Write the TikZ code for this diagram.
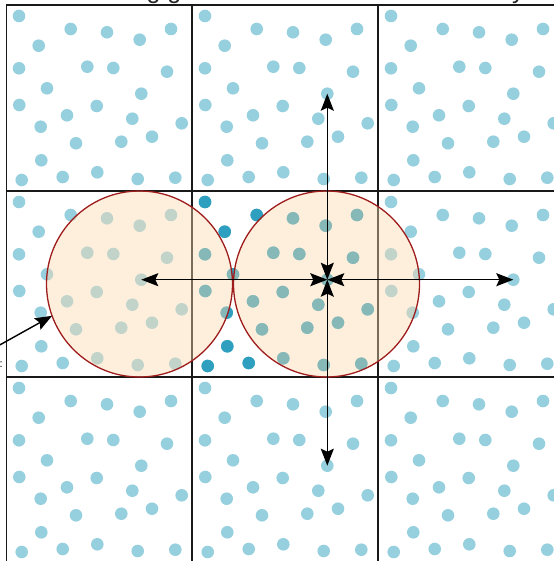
\documentclass[tikz,border=0pt]{standalone}
\usepackage{fontspec}
\setmainfont{Liberation Sans}
\usetikzlibrary{arrows.meta}
\definecolor{dotlight}{HTML}{96CFDD}
\definecolor{dotdark}{HTML}{2F9FBF}
\definecolor{circfill}{RGB}{252,219,177}
\definecolor{circline}{HTML}{9E1C1C}
\def\dotlist{19/16, 70.7/29, 107/32.3, 139.7/39.7, 171/29, 38.7/45.7, 19/68.3, 87.3/66.7, 113.3/68, 167/71.7, 47/88.3, 141.3/93.7, 19.3/105, 96.7/106, 67/115.3, 132.3/118.7, 181.7/123.3, 40.7/126.7, 76/143.3, 121.3/141.7, 152/136.7, 41.3/160.3, 21.7/180, 62.7/177, 97.3/172.3, 137.7/179, 175.3/177.7}
\begin{document}
\begin{tikzpicture}[x=1pt,y=-1pt,
  gridline/.style={line width=1.3pt, black!90},
  zone/.style={circle, draw=circline, line width=1.3pt, fill=circfill, fill opacity=0.43, minimum size=186pt, inner sep=0pt, outer sep=0pt},
  dist/.style={line width=1.5pt, black, {Stealth[length=17pt,width=13pt,inset=3pt]}-{Stealth[length=17pt,width=13pt,inset=3pt]}},
  ptr/.style={line width=1.4pt, black, -{Stealth[length=17pt,width=13pt,inset=3pt]}},
  lbl/.style={inner sep=0pt, font=\fontsize{25}{27}\selectfont, text=black!85}]
\useasboundingbox (0,0) rectangle (553,561);
% dots
\foreach \i in {0,1,2}{
  \foreach \j in {0,1,2}{
    \foreach \x/\y in \dotlist {
      \fill[dotlight] (\x+186*\i,\y+186*\j) circle[radius=6.3];
    }
  }
}
\foreach \x/\y in \dotlist {
  \fill[dotdark] (\x+186,\y+186) circle[radius=6.3];
}
% grid
\draw[gridline] (6.5,5) rectangle (564.5,563);
\draw[gridline] (192,5) -- (192,563) (378,5) -- (378,563)
                (6.5,191) -- (564.5,191) (6.5,377) -- (564.5,377);
% search zones
\node[zone] (L) at (139.5,284) {};
\node[zone] (R) at (326.5,284) {};
% particle positions
\coordinate (pc) at (327.3,279.7);
\coordinate (pl) at (141.3,279.7);
\coordinate (pr) at (513.3,279.7);
\coordinate (pt) at (327.3,93.7);
\coordinate (pb) at (327.3,465.7);
\draw[dist] (pc) -- (pl);
\draw[dist] (pc) -- (pr);
\draw[dist] (pc) -- (pt);
\draw[dist] (pc) -- (pb);
% texts (cropped by the page, as in the reference)
\node[lbl, anchor=base west] (title) at (20,-1.5) {Sorted using grid location in sorted data array};
\node[inner sep=0pt, font=\fontsize{11}{12}\selectfont, anchor=base east] (side) at (3,367) {radius:};
\coordinate (tstart) at (-12,351.5);
\draw[ptr] (tstart) -- (L.200);
\end{tikzpicture}
\end{document}
